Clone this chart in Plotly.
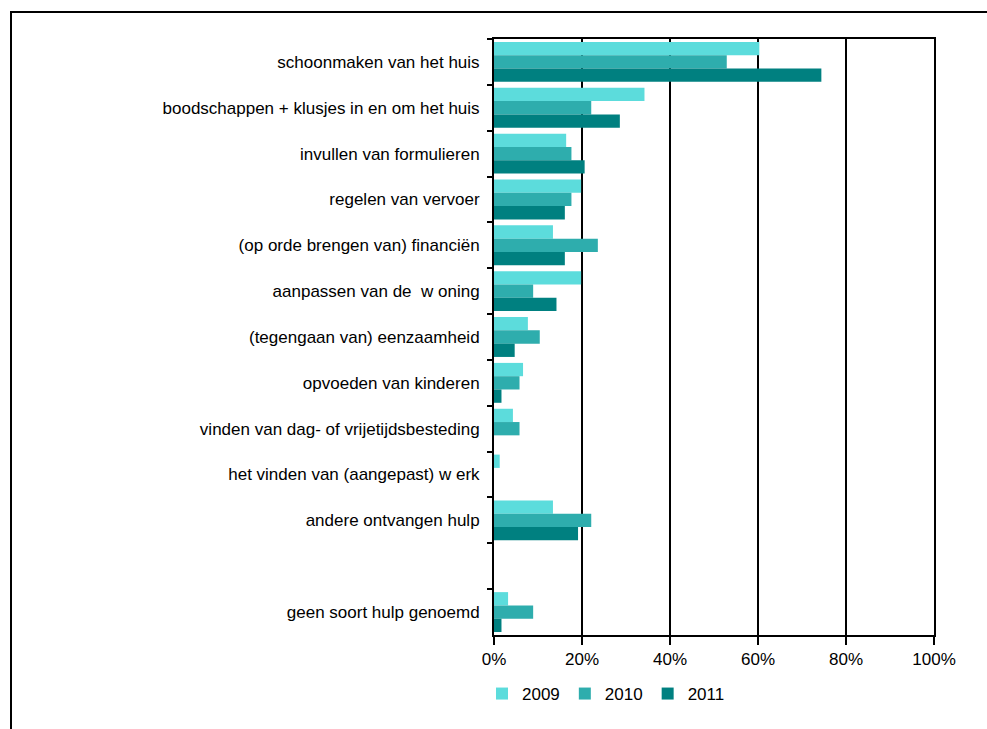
import plotly.graph_objects as go

# Categories, top to bottom (blank slot before the last one)
categories = [
    "schoonmaken van het huis",
    "boodschappen + klusjes in en om het huis",
    "invullen van formulieren",
    "regelen van vervoer",
    "(op orde brengen van) financiën",
    "aanpassen van de  w oning",
    "(tegengaan van) eenzaamheid",
    "opvoeden van kinderen",
    "vinden van dag- of vrijetijdsbesteding",
    "het vinden van (aangepast) w erk",
    "andere ontvangen hulp",
    " ",
    "geen soort hulp genoemd",
]

# Share of respondents per kind of help (%)
values_2009 = [60.3, 34.2, 16.4, 19.8, 13.4, 19.8, 7.7, 6.6, 4.3, 1.3, 13.4, None, 3.2]
values_2010 = [52.9, 22.1, 17.6, 17.6, 23.6, 8.9, 10.4, 5.8, 5.8, 0.0, 22.1, None, 8.9]
values_2011 = [74.4, 28.6, 20.6, 16.1, 16.1, 14.2, 4.7, 1.7, 0.0, 0.0, 19.1, None, 1.7]

series = [
    ("2009", values_2009, "#5CDCDC"),
    ("2010", values_2010, "#2EADAD"),
    ("2011", values_2011, "#008080"),
]

x_ticks = [0, 20, 40, 60, 80, 100]
x_ticklabels = ["0%", "20%", "40%", "60%", "80%", "100%"]

FONT = "Liberation Sans, Arial, sans-serif"

fig = go.Figure()
for name, vals, color in series:
    fig.add_trace(go.Bar(
        y=categories,
        x=vals,
        name=name,
        orientation="h",
        marker=dict(color=color, line=dict(width=0)),
    ))

W, H = 987, 729
ml, mr, mt, mb = 494, 53, 39, 94
pw, ph = W - ml - mr, H - mt - mb

def px_to_paper_x(px):
    return (px - ml) / pw

def px_to_paper_y(py):
    return (H - mb - py) / ph

fig.update_layout(
    width=W,
    height=H,
    margin=dict(l=ml, r=mr, t=mt, b=mb, pad=0),
    paper_bgcolor="white",
    plot_bgcolor="white",
    barmode="group",
    bargap=0.13,
    bargroupgap=0,
    font=dict(family=FONT, size=17, color="black"),
    xaxis=dict(
        range=[0, 100],
        tickvals=x_ticks,
        ticktext=x_ticklabels,
        tickfont=dict(size=17),
        ticks="outside",
        ticklen=8,
        tickwidth=2,
        tickcolor="black",
        showgrid=True,
        gridcolor="black",
        gridwidth=1.5,
        zeroline=False,
        showline=True,
        linecolor="black",
        linewidth=2,
        mirror=True,
        fixedrange=True,
    ),
    yaxis=dict(
        categoryorder="array",
        categoryarray=categories,
        range=[len(categories) - 0.5, -0.5],
        tickson="boundaries",
        ticks="outside",
        ticklen=5,
        tickwidth=2,
        tickcolor="black",
        tickfont=dict(size=17),
        ticklabelstandoff=9,
        showgrid=False,
        zeroline=False,
        showline=True,
        linecolor="black",
        linewidth=2,
        mirror=True,
        fixedrange=True,
    ),
    legend=dict(
        orientation="h",
        x=px_to_paper_x(482),
        xanchor="left",
        y=px_to_paper_y(676),
        yanchor="top",
        font=dict(size=17),
        itemwidth=30,
        tracegroupgap=0,
        bgcolor="rgba(0,0,0,0)",
    ),
    shapes=[
        dict(
            type="rect",
            xref="paper", yref="paper",
            x0=px_to_paper_x(11), x1=px_to_paper_x(1000),
            y0=px_to_paper_y(745), y1=px_to_paper_y(12),
            line=dict(color="black", width=2),
            fillcolor="rgba(0,0,0,0)",
            layer="above",
        )
    ],
)

fig.write_html("out.html")
